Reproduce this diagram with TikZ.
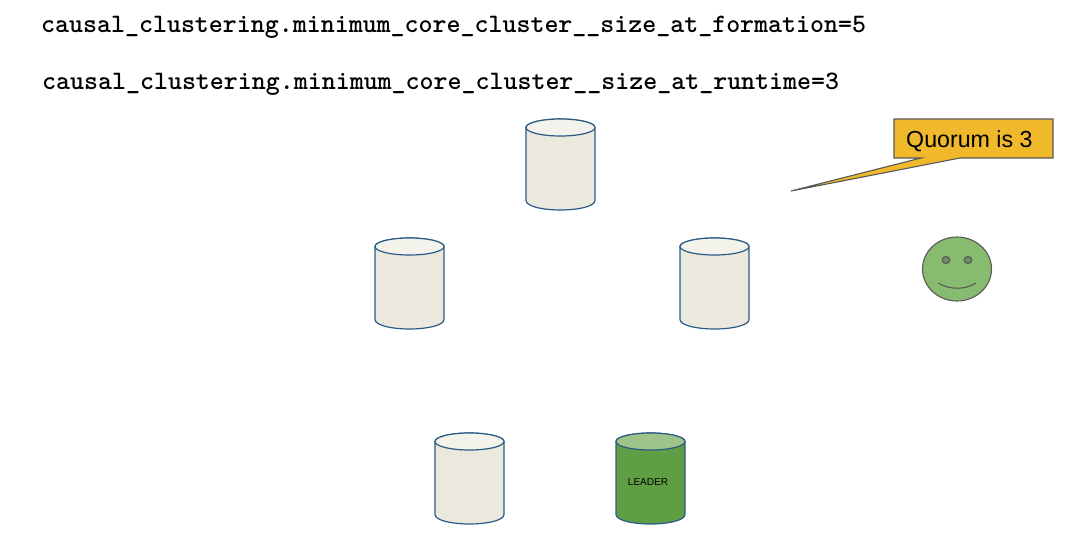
\documentclass[tikz,border=0pt]{standalone}
\usepackage{fontspec}
\setmainfont{Liberation Sans}
\definecolor{cream}{HTML}{EBE8DD}
\definecolor{creamtop}{HTML}{F3F2EB}
\definecolor{cylline}{HTML}{2A5A85}
\definecolor{leadgreen}{HTML}{5F9E45}
\definecolor{leadtop}{HTML}{9FC48A}
\definecolor{facegreen}{HTML}{87BB70}
\definecolor{eyegreen}{HTML}{6E8F60}
\definecolor{gold}{HTML}{F0B92B}
\definecolor{greyline}{HTML}{595959}
\tikzset{
  codetext/.style={anchor=base west,inner sep=0pt,font=\ttfamily\bfseries\fontsize{26.63}{30}\selectfont\addfontfeature{FakeBold=0.5},text=black},
  cylbody/.style={draw=cylline,line width=1.2pt},
  grey/.style={draw=greyline,line width=1.1pt},
  pics/dbcyl/.style 2 args={code={
    \path[cylbody,fill=#1] (-34.5,-37) -- (-34.5,36)
      .. controls (-34.5,42) and (-17,45.5) .. (0,45.5)
      .. controls (17,45.5) and (34.5,42) .. (34.5,36) -- (34.5,-37)
      .. controls (34.5,-42) and (17,-45.5) .. (0,-45.5)
      .. controls (-17,-45.5) and (-34.5,-42) .. (-34.5,-37) -- cycle;
    \path[cylbody,fill=#2] (0,-37) ellipse [x radius=34.5,y radius=8.5];
  }}
}
\begin{document}
\begin{tikzpicture}[x=1pt,y=-1pt]
\useasboundingbox (0,0) rectangle (1082,544);
\node[codetext] (line1) at (41,32) {causal\_clustering.minimum\_core\_cluster\_\_size\_at\_formation=5};
\node[codetext] (line2) at (42,89) {causal\_clustering.minimum\_core\_cluster\_\_size\_at\_runtime=3};
\pic at (560.5,164.5) {dbcyl={cream}{creamtop}};
\pic at (409.5,283.5) {dbcyl={cream}{creamtop}};
\pic at (714.5,283.5) {dbcyl={cream}{creamtop}};
\pic at (469.5,478.5) {dbcyl={cream}{creamtop}};
\pic at (650.5,478.5) {dbcyl={leadgreen}{leadtop}};
\node[inner sep=0pt,font=\fontsize{10}{12}\selectfont] (leader) at (648,482.5) {LEADER};
\path[grey,fill=gold,line join=miter] (894,119) -- (1053,119) -- (1053,158) -- (960,158) -- (791,191) -- (921,158) -- (894,158) -- cycle;
\node[anchor=base west,inner sep=0pt,font=\fontsize{23.2}{28}\selectfont] (quorum) at (906,147) {Quorum is 3};
\path[grey,fill=facegreen] (957,269) ellipse [x radius=34.5,y radius=32];
\path[grey,fill=eyegreen] (946,260) ellipse [x radius=3.8,y radius=3.5];
\path[grey,fill=eyegreen] (968,260) ellipse [x radius=3.8,y radius=3.5];
\draw[grey] (938,283) .. controls (950,290) and (965,290) .. (976,283);
\end{tikzpicture}
\end{document}
